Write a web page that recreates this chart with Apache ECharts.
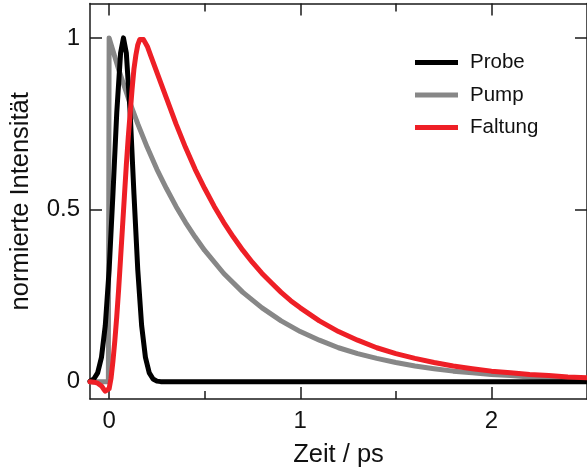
<!DOCTYPE html>
<html>
<head>
<meta charset="utf-8">
<script src="https://cdn.jsdelivr.net/npm/echarts@6/dist/echarts.min.js"></script>
<style>
html,body{margin:0;padding:0;background:#fff;}
#chart{width:587px;height:476px;}
</style>
</head>
<body>
<div id="chart"></div>
<script>
// Data (time in ps, normalized intensity)
const seriesNames = ['Probe', 'Pump', 'Faltung'];
const xMajorTicks = [0, 1, 2];
const xMinorTicks = [0.5, 1.5];
const yTicks = [0, 0.5, 1];

const probeData = [
  [-0.10, 0.002], [-0.08, 0.008], [-0.06, 0.026], [-0.04, 0.071], [-0.02, 0.164],
  [0.00, 0.325], [0.02, 0.546], [0.04, 0.783], [0.06, 0.956], [0.075, 1.0],
  [0.09, 0.956], [0.11, 0.783], [0.13, 0.546], [0.15, 0.325], [0.17, 0.164],
  [0.19, 0.071], [0.21, 0.026], [0.23, 0.008], [0.25, 0.002], [0.27, 0.0005],
  [0.30, 0.0], [1.0, 0.0], [2.0, 0.0], [2.5, 0.0]
];

const pumpData = [
  [-0.10, 0.0], [-0.004, 0.0], [0.0, 1.0], [0.05, 0.908], [0.10, 0.825], [0.15, 0.750],
  [0.20, 0.681], [0.25, 0.618], [0.30, 0.562], [0.35, 0.510], [0.40, 0.463],
  [0.45, 0.421], [0.50, 0.382], [0.60, 0.315], [0.70, 0.260], [0.80, 0.215],
  [0.90, 0.177], [1.00, 0.146], [1.10, 0.121], [1.20, 0.099], [1.30, 0.082],
  [1.40, 0.068], [1.50, 0.056], [1.60, 0.046], [1.70, 0.038], [1.80, 0.031],
  [1.90, 0.026], [2.00, 0.021], [2.10, 0.018], [2.20, 0.014], [2.30, 0.012],
  [2.40, 0.010], [2.50, 0.008]
];

const faltungData = [
  [-0.10, 0.0], [-0.08, -0.001], [-0.06, -0.004], [-0.04, -0.012], [-0.03, -0.020],
  [-0.02, -0.027], [-0.01, -0.030], [0.00, -0.020], [0.01, 0.01], [0.02, 0.06],
  [0.03, 0.12], [0.04, 0.19], [0.05, 0.27], [0.06, 0.36], [0.07, 0.45],
  [0.08, 0.54], [0.09, 0.63], [0.10, 0.71], [0.11, 0.78], [0.12, 0.85],
  [0.13, 0.91], [0.14, 0.95], [0.15, 0.98], [0.16, 0.995], [0.17, 1.0],
  [0.18, 0.995], [0.20, 0.975], [0.22, 0.945], [0.25, 0.90], [0.30, 0.825],
  [0.35, 0.75], [0.40, 0.681], [0.45, 0.618], [0.50, 0.562], [0.55, 0.510],
  [0.60, 0.463], [0.65, 0.421], [0.70, 0.382], [0.75, 0.347], [0.80, 0.315],
  [0.85, 0.287], [0.90, 0.260], [0.95, 0.236], [1.00, 0.215], [1.10, 0.177],
  [1.20, 0.146], [1.30, 0.121], [1.40, 0.099], [1.50, 0.082], [1.60, 0.068],
  [1.70, 0.056], [1.80, 0.046], [1.90, 0.038], [2.00, 0.031], [2.10, 0.026],
  [2.20, 0.021], [2.30, 0.018], [2.40, 0.014], [2.50, 0.012]
];

const colors = {Probe: '#000000', Pump: '#878787', Faltung: '#ee1f26'};
const FONT = '"Liberation Sans", Arial, Helvetica, sans-serif';
const axisColor = '#1a1a1a';

function xAxisDef(pos, ticks, len, showLabel, showLine, extra) {
  return Object.assign({
    type: 'value', position: pos, min: -0.1, max: 2.5,
    axisLine: {show: showLine, onZero: false, lineStyle: {color: axisColor, width: 1.5}},
    axisTick: {show: true, inside: true, length: len, customValues: ticks,
               lineStyle: {color: axisColor, width: 1.5}},
    axisLabel: {show: showLabel, customValues: ticks, margin: 10,
                color: '#111', fontSize: 24, fontFamily: FONT},
    splitLine: {show: false}
  }, extra || {});
}
function yAxisDef(pos, showLabel, extra) {
  return Object.assign({
    type: 'value', position: pos, min: -0.05, max: 1.1,
    axisLine: {show: true, onZero: false, lineStyle: {color: axisColor, width: 1.5}},
    axisTick: {show: true, inside: true, length: 12, customValues: yTicks,
               lineStyle: {color: axisColor, width: 1.5}},
    axisLabel: {show: showLabel, customValues: yTicks, margin: 10,
                color: '#111', fontSize: 24, fontFamily: FONT},
    splitLine: {show: false}
  }, extra || {});
}

const dataMap = {Probe: probeData, Pump: pumpData, Faltung: faltungData};
const drawOrder = ['Pump', 'Probe', 'Faltung'];

const chart = echarts.init(document.getElementById('chart'), null, {renderer: 'canvas'});
chart.setOption({
  animation: false,
  backgroundColor: '#ffffff',
  grid: {left: 89, top: 3.5, right: -8, bottom: 77, containLabel: false},
  legend: {
    data: seriesNames, orient: 'vertical', left: 410, top: 47,
    itemWidth: 43, itemHeight: 5, itemGap: 11.5, icon: 'rect',
    textStyle: {fontSize: 20.5, lineHeight: 20, color: '#111', fontFamily: FONT, padding: [0, 0, 0, 7]}
  },
  xAxis: [
    xAxisDef('bottom', xMajorTicks, 12, true, true, {
      name: 'Zeit / ps', nameLocation: 'middle', nameGap: 43,
      nameTextStyle: {fontSize: 25.5, color: '#111', fontFamily: FONT}
    }),
    xAxisDef('bottom', xMinorTicks, 8, false, false),
    xAxisDef('top', xMajorTicks, 12, false, true),
    xAxisDef('top', xMinorTicks, 8, false, false)
  ],
  yAxis: [
    yAxisDef('left', true, {
      name: 'normierte Intensität', nameLocation: 'middle', nameGap: 56,
      nameTextStyle: {fontSize: 25.5, color: '#111', fontFamily: FONT}
    }),
    yAxisDef('right', false)
  ],
  series: drawOrder.map(n => ({
    name: n, type: 'line', xAxisIndex: 0, yAxisIndex: 0,
    data: dataMap[n], showSymbol: false, symbol: 'none', smooth: false,
    color: colors[n],
    lineStyle: {color: colors[n], width: 5, join: 'round', cap: 'round'},
    z: 2
  }))
});
</script>
</body>
</html>
